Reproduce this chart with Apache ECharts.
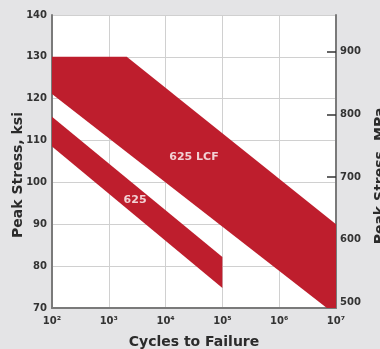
<!DOCTYPE html>
<html><head><meta charset="utf-8">
<script src="https://cdn.jsdelivr.net/npm/echarts@6/dist/echarts.min.js"></script>
<style>html,body{margin:0;padding:0;background:#e4e4e6;}#c{width:380px;height:349px;}</style>
</head><body><div id="c"></div>
<script>
// Band "625 LCF" outline: cycles and peak stress (ksi)
const lcfCycles = [100, 2070, 1e7, 1e7, 6.9e6, 100];
const lcfStress = [130, 130, 90, 70, 70, 121.1];
// Band "625" outline
const b625Cycles = [100, 1e5, 1e5, 100];
const b625Stress = [115.7, 82.2, 74.8, 108.6];
// Label positions
const labelNames = ['625 LCF', '625'];
const labelCycles = [31600, 2900];
const labelStress = [106.1, 95.8];
// Axis ticks
const xTicks = [100, 1000, 10000, 100000, 1000000, 10000000];
const xTickLabels = ['10²', '10³', '10⁴', '10⁵', '10⁶', '10⁷'];
const mpaTicks = [500, 600, 700, 800, 900];
const titles = ['Cycles to Failure', 'Peak Stress, ksi', 'Peak Stress, MPa'];

const FONT = 'DejaVu Sans';
const RED = '#be1e2d';
const TITLE_STYLE = { fontFamily: FONT, fontWeight: 'bold', fontSize: 14, fill: '#2b2b2b', align: 'center', verticalAlign: 'middle' };

function poly(xs, ys){ return xs.map((x,i)=>[x, ys[i]]); }

const chart = echarts.init(document.getElementById('c'));
function bandSeries(pts){
  return {
    type: 'custom',
    xAxisIndex: 0, yAxisIndex: 0,
    data: [0],
    clip: true,
    renderItem: function(params, api){
      return {
        type: 'polygon',
        shape: { points: pts.map(p => api.coord(p)) },
        style: { fill: RED }
      };
    },
    z: 1
  };
}
chart.setOption({
  backgroundColor: '#e4e4e6',
  animation: false,
  grid: { left: 52, right: 44, top: 15, bottom: 41, containLabel: false, outerBoundsMode: 'none',
    show: true, backgroundColor: '#fff', borderWidth: 0 },
  graphic: [
    { type: 'text', x: 194, y: 342, style: Object.assign({ text: titles[0] }, TITLE_STYLE) },
    { type: 'text', x: 18, y: 175, rotation: Math.PI / 2, style: Object.assign({ text: titles[1] }, TITLE_STYLE) },
    { type: 'text', x: 380, y: 176, rotation: Math.PI / 2, style: Object.assign({ text: titles[2] }, TITLE_STYLE) }
  ],
  xAxis: {
    type: 'log', logBase: 10, min: 100, max: 1e7,
    axisLine: { show: true, lineStyle: { color: '#7a7a7a', width: 2 } },
    axisTick: { show: false },
    axisLabel: { margin: 8, fontFamily: FONT, fontWeight: 'bold', fontSize: 10, color: '#333',
      formatter: function(v){ const i = xTicks.indexOf(v); return i >= 0 ? xTickLabels[i] : ''; } },
    splitLine: { show: true, lineStyle: { color: '#d0d0d0', width: 1 } }
  },
  yAxis: [{
    type: 'value', min: 70, max: 140, interval: 10, position: 'left',
    axisLine: { show: true, lineStyle: { color: '#7a7a7a', width: 2 } },
    axisTick: { show: false },
    axisLabel: { margin: 5, fontFamily: FONT, fontWeight: 'bold', fontSize: 10, color: '#333' },
    splitLine: { show: true, lineStyle: { color: '#d0d0d0', width: 1 } }
  }, {
    type: 'value', min: 491, max: 958.5, position: 'right',
    axisLine: { show: true, onZero: false, lineStyle: { color: '#7a7a7a', width: 2 } },
    axisTick: { show: true, inside: true, length: 9, customValues: mpaTicks, lineStyle: { color: '#333', width: 1.5 } },
    axisLabel: { margin: 4, fontFamily: FONT, fontWeight: 'bold', fontSize: 10, color: '#333', customValues: mpaTicks },
    splitLine: { show: false }
  }],
  series: [
    bandSeries(poly(lcfCycles, lcfStress)),
    bandSeries(poly(b625Cycles, b625Stress)),
    {
      type: 'scatter', symbolSize: 0, z: 5,
      data: labelNames.map((n,i)=>({ name: n, value: [labelCycles[i], labelStress[i]] })),
      label: { show: true, position: 'inside', formatter: '{b}', color: '#fff', fontFamily: FONT, fontWeight: 'bold', fontSize: 11 }
    }
  ]
});
</script>
</body></html>
